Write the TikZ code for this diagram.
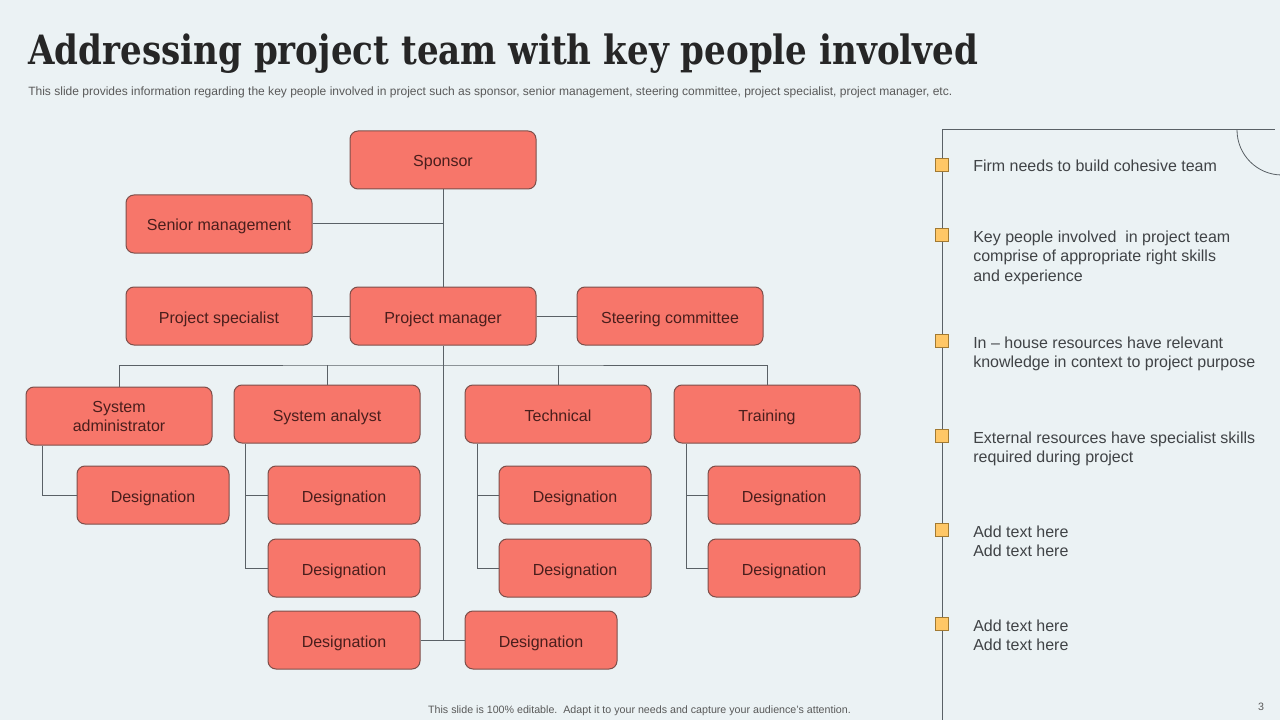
\documentclass[tikz,border=0pt]{standalone}
\usepackage{fontspec}
\setmainfont{Liberation Sans}
\newfontfamily\titlefont{DejaVu Serif}
\usetikzlibrary{calc}
\definecolor{bg}{HTML}{EBF2F4}
\definecolor{boxfill}{HTML}{F7766A}
\definecolor{boxline}{HTML}{7D4F4A}
\definecolor{boxtext}{HTML}{4A1E1C}
\definecolor{conn}{HTML}{5A6166}
\definecolor{bodytext}{HTML}{404346}
\definecolor{titletext}{HTML}{262626}
\definecolor{subtext}{HTML}{595959}
\definecolor{markfill}{HTML}{FFC766}
\definecolor{markline}{HTML}{A27A32}
\begin{document}
\begin{tikzpicture}[x=0.75pt,y=-0.75pt,
 orgbase/.style={draw=boxline, fill=boxfill, line width=0.75pt, rounded corners=6pt, minimum width=139.5pt, minimum height=43.5pt, inner sep=0pt, text=boxtext, font=\fontsize{12pt}{14.25pt}\selectfont, align=center},
 orgbox/.style={orgbase, text height=10.5pt, text depth=0pt},
 desbox/.style={orgbox, minimum width=114pt},
 conline/.style={draw=conn, line width=0.75pt},
 marker/.style={draw=markline, fill=markfill, line width=0.6pt, minimum size=9.75pt, inner sep=0pt},
 point/.style={anchor=base west, inner sep=0pt, align=left, text=bodytext, font=\fontsize{12pt}{14.25pt}\selectfont}]

\fill[bg] (0,0) rectangle (1280,720);
\useasboundingbox (0,0) rectangle (1280,720);

% title and texts
\node[anchor=base west, inner sep=0pt, text=titletext] (title) at (28,65)
  {\resizebox{712.5pt}{23pt}{\titlefont\bfseries Addressing project team with key people involved}};
\node[anchor=base west, inner sep=0pt, text=subtext] (sub) at (28,96)
  {\resizebox{693pt}{!}{\fontsize{8pt}{9pt}\selectfont This slide provides information regarding the key people involved in project such as sponsor, senior management, steering committee, project specialist, project manager, etc.}};
\node[anchor=base, inner sep=0pt, text=subtext] (foot) at (639.5,713)
  {\resizebox{317pt}{!}{\fontsize{7pt}{8pt}\selectfont This slide is 100\% editable.\ \ Adapt it to your needs and capture your audience's attention.}};
\node[anchor=base, inner sep=0pt, text=subtext, font=\fontsize{8pt}{9pt}\selectfont] (pagenum) at (1261,710) {3};

% org chart nodes
\node[orgbox] (sponsor) at (443,160) {Sponsor};
\node[orgbox] (senior) at (219,224) {Senior management};
\node[orgbox] (ps) at (219,316) {Project specialist};
\node[orgbox] (pm) at (443,316) {Project manager};
\node[orgbox] (sc) at (670,316) {Steering committee};
\node[orgbase] (sysadmin) at (119,416) {\raisebox{-1.5pt}{System}\\\raisebox{-1.5pt}{administrator}};
\node[orgbox] (analyst) at (327,414) {System analyst};
\node[orgbox] (technical) at (558,414) {Technical};
\node[orgbox] (training) at (767,414) {Training};
\node[desbox] (d1) at (153,495) {Designation};
\node[desbox] (d2) at (344,495) {Designation};
\node[desbox] (d3) at (344,568) {Designation};
\node[desbox] (d4) at (575,495) {Designation};
\node[desbox] (d5) at (575,568) {Designation};
\node[desbox] (d6) at (784,495) {Designation};
\node[desbox] (d7) at (784,568) {Designation};
\node[desbox] (d8) at (344,640) {Designation};
\node[desbox] (d9) at (541,640) {Designation};
\coordinate (bus) at (443,365);

% connectors
\draw[conline] (sponsor.south) -- (pm.north);
\draw[conline] (senior.east) -- (senior.east -| sponsor.south);
\draw[conline] (ps.east) -- (pm.west);
\draw[conline] (pm.east) -- (sc.west);
\draw[conline] (pm.south) -- (pm.south |- d8.east);
\draw[conline] (d8.east) -- (d9.west);
\draw[conline] (sysadmin.north) |- (bus) -| (training.north);
\draw[conline] (analyst.north) -- (analyst.north |- bus);
\draw[conline] (technical.north) -- (technical.north |- bus);
\draw[conline] ($(sysadmin.south west)+(17,0)$) |- (d1.west);
\draw[conline] ($(analyst.south west)+(12,0)$) |- (d3.west);
\draw[conline] (d2.west) -- (d2.west -| {$(analyst.south west)+(12,0)$});
\draw[conline] ($(technical.south west)+(13,0)$) |- (d5.west);
\draw[conline] (d4.west) -- (d4.west -| {$(technical.south west)+(13,0)$});
\draw[conline] ($(training.south west)+(13,0)$) |- (d7.west);
\draw[conline] (d6.west) -- (d6.west -| {$(training.south west)+(13,0)$});

% right panel
\coordinate (ptop) at (942,130);
\coordinate (pbot) at (942,720);
\coordinate (pright) at (1275,130);
\coordinate (arcstart) at (1237,130);
\draw[conline] (pbot) -- (ptop) -- (pright);
\draw[draw=conn, line width=0.6pt] (arcstart) arc[start angle=180, end angle=270, radius=33.75pt];

\node[marker] (m1) at (942,165) {};
\node[marker] (m2) at (942,235) {};
\node[marker] (m3) at (942,341) {};
\node[marker] (m4) at (942,436) {};
\node[marker] (m5) at (942,530) {};
\node[marker] (m6) at (942,624) {};
% base anchor is the baseline of the last line (19px per line)
\node[point] (t1) at (973,172) {Firm needs to build cohesive team};
\node[point] (t2) at (973,281) {Key people involved\ \ in project team\\comprise of appropriate right skills\\and experience};
\node[point] (t3) at (973,367) {In -- house resources have relevant\\knowledge in context to project purpose};
\node[point] (t4) at (973,462) {External resources have specialist skills\\required during project};
\node[point] (t5) at (973,556) {Add text here\\Add text here};
\node[point] (t6) at (973,650) {Add text here\\Add text here};
\end{tikzpicture}
\end{document}
